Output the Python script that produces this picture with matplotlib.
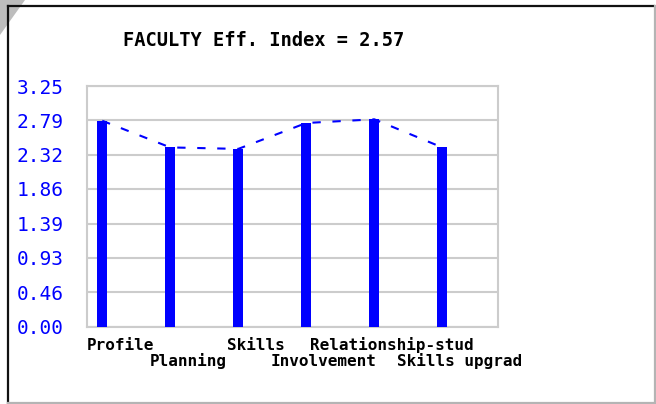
import matplotlib
matplotlib.use("Agg")
import matplotlib.pyplot as plt
import matplotlib.transforms as mtransforms
from matplotlib.patches import Polygon
from matplotlib.lines import Line2D

categories = ["Profile", "Planning", "Skills", "Involvement", "Relationship-stud", "Skills upgrad"]
values = [2.78, 2.42, 2.40, 2.75, 2.80, 2.42]
yticks = [0.00, 0.46, 0.93, 1.39, 1.86, 2.32, 2.79, 3.25]
title = "FACULTY Eff. Index = 2.57"

W, H = 656, 404
fig = plt.figure(figsize=(W / 100, H / 100), dpi=100)
fig.patch.set_facecolor("white")


def fx(x):
    return x / W


def fy(y):
    return 1 - y / H


# corner triangle and frame
tri = Polygon([[0, 1], [fx(25), 1], [0, fy(35)]], closed=True, transform=fig.transFigure,
              facecolor="#bdbdbd", edgecolor="none", zorder=0)
fig.add_artist(tri)
fig.add_artist(Line2D([fx(7.5), fx(654)], [fy(5.5), fy(5.5)], transform=fig.transFigure,
                      color="#111111", lw=1.6, zorder=1))
fig.add_artist(Line2D([fx(7.5), fx(7.5)], [fy(5.5), fy(404)], transform=fig.transFigure,
                      color="#111111", lw=1.6, zorder=1))
fig.add_artist(Line2D([fx(654.5), fx(654.5)], [fy(5.5), fy(403)], transform=fig.transFigure,
                      color="#b4b4b4", lw=1.6, zorder=1))
fig.add_artist(Line2D([fx(7.5), fx(655)], [fy(402.8), fy(402.8)], transform=fig.transFigure,
                      color="#b4b4b4", lw=1.6, zorder=1))

ax = fig.add_axes([fx(87.3), fy(326.5), fx(498) - fx(87.3), fy(86) - fy(326.5)])
ax.set_facecolor("white")
ax.set_zorder(2)

x = list(range(len(categories)))
ax.plot(x, values, color="blue", lw=1.5, linestyle=(0, (4, 5.6)), zorder=2)
ax.bar(x, values, width=0.15, color="blue", zorder=3)

ax.set_xlim(-0.22, 5.82)
ax.set_ylim(0, 3.25)
ax.set_yticks(yticks)
ax.set_yticklabels([f"{v:.2f}" for v in yticks], color="blue",
                   fontfamily="DejaVu Sans Mono", fontsize=14)
ax.tick_params(axis="y", length=0, pad=17)
ax.set_xticks([])
ax.grid(axis="y", color="#cccccc", lw=1.5, zorder=0)
for s in ax.spines.values():
    s.set_color("#cccccc")
    s.set_linewidth(1.5)

blend = mtransforms.blended_transform_factory(ax.transData, fig.transFigure)
for i, c in enumerate(categories):
    ypix = 345 if i % 2 == 0 else 361
    ax.text(i + 0.26, fy(ypix), c, transform=blend,
            ha="center", va="center", fontfamily="DejaVu Sans Mono", fontsize=11.5,
            fontweight="bold", color="black")

fig.text(fx(264), fy(40), title, ha="center", va="center", fontfamily="DejaVu Sans Mono",
         fontsize=13.5, fontweight="bold", color="black")

fig.savefig("out.png", dpi=100)
